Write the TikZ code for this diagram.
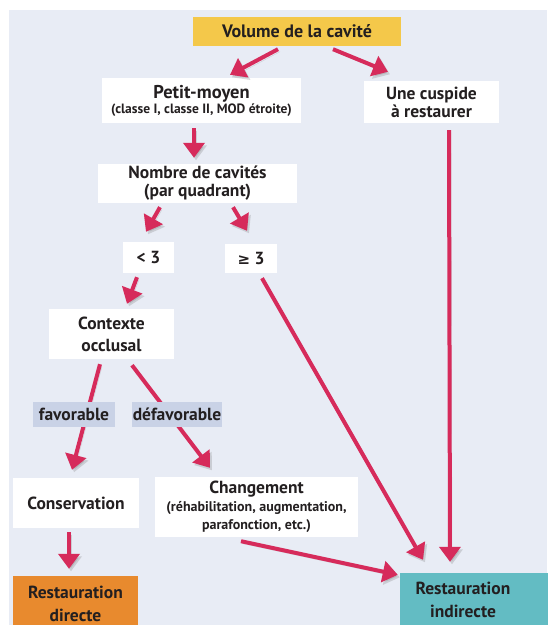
\documentclass[tikz,border=0pt]{standalone}
\usepackage{fontspec}
\setmainfont{PT Sans}
\newfontfamily\symfont{DejaVu Sans}
\usetikzlibrary{arrows.meta}
\definecolor{panelc}{HTML}{E8ECF5}
\definecolor{labelc}{HTML}{C9D2E6}
\definecolor{arrowc}{HTML}{D62B5B}
\definecolor{yellowc}{HTML}{F4C84A}
\definecolor{orangec}{HTML}{E88A2E}
\definecolor{tealc}{HTML}{63BCC3}
\definecolor{ink}{HTML}{231F20}
\newcommand{\smalltxt}{\fontsize{13.5}{13}\selectfont}
\newcommand{\midtxt}{\fontsize{14}{15}\selectfont}
\tikzset{
  box/.style={fill=white, inner sep=0pt, align=center, text=ink,
    font=\bfseries\fontsize{17.5}{18}\selectfont},
  lab/.style={fill=labelc, inner sep=0pt, align=center, text=ink,
    minimum height=25, font=\bfseries\fontsize{17.5}{18}\selectfont},
  arr/.style={draw=arrowc, line width=4pt,
    -{Triangle[length=15pt,width=21pt]},
    preaction={draw=black!55, opacity=0.25,
      transform canvas={shift={(2pt,-2.5pt)}}}},
}
\begin{document}
\begin{tikzpicture}[x=1pt,y=-1pt]
\useasboundingbox (0,0) rectangle (548,625);
\fill[white] (0,0) rectangle (548,625);
\fill[panelc] (9,10) rectangle (547,625);

% nodes
\node[box, fill=yellowc, minimum width=208, minimum height=29, font=\bfseries\fontsize{18}{18}\selectfont] (vol) at (297,31.5) {Volume de la cavité};
\node[box, minimum width=199, minimum height=45] (petit) at (201.5,100.5) {\fontsize{18.5}{18}\selectfont Petit-moyen\\[-3pt]\smalltxt (classe I, classe II, MOD étroite)};
\node[box, minimum width=135, minimum height=42] (cusp) at (431.5,102) {Une cuspide\\à restaurer};
\node[box, minimum width=199, minimum height=39] (nombre) at (197.5,183.5) {Nombre de cavités\\(par quadrant)};
\node[box, minimum width=51, minimum height=31] (lt3) at (148.5,257.5) {< 3};
\node[box, minimum width=52, minimum height=29] (ge3) at (251,258.5) {{\symfont\fontsize{15}{18}\selectfont ≥} 3};
\node[box, minimum width=125, minimum height=50, font=\bfseries\fontsize{17.5}{22}\selectfont] (ctx) at (111.5,334) {Contexte\\occlusal};
\node[box, minimum width=126, minimum height=50] (cons) at (76,503) {Conservation};
\node[box, minimum width=203, minimum height=60] (chg) at (256.5,507) {Changement\\\midtxt (réhabilitation, augmentation,\\\midtxt parafonction, etc.)};
\node[box, fill=orangec, minimum width=125, minimum height=56, font=\bfseries\fontsize{17.5}{23}\selectfont] (rdir) at (75.5,604) {Restauration\\directe};
\fill[tealc] (400,573) rectangle (548,625);
\node[box, fill=tealc, minimum width=126, minimum height=54, font=\bfseries\fontsize{17.5}{23}\selectfont] (rind) at (463,600) {Restauration\\indirecte};

% arrows
\draw[arr] ([xshift=-19pt,yshift=-3pt]vol.south) -- ([xshift=28.5pt,yshift=3pt]petit.north);
\draw[arr] ([xshift=36pt,yshift=-3pt]vol.south) -- ([xshift=-43.5pt,yshift=9pt]cusp.north);
\draw[arr] ([xshift=-7.5pt,yshift=-5pt]petit.south) -- ([xshift=-3.5pt,yshift=6pt]nombre.north);
\draw[arr] ([xshift=-37.5pt,yshift=-4pt]nombre.south) -- ([xshift=-2.5pt,yshift=10pt]lt3.north);
\draw[arr] ([xshift=35.5pt,yshift=-4pt]nombre.south) -- ([xshift=-4pt,yshift=13pt]ge3.north);
\draw[arr] ([xshift=-11.5pt,yshift=-4pt]lt3.south) -- ([xshift=15.5pt,yshift=5pt]ctx.north);
\draw[arr] ([xshift=11pt,yshift=-5pt]ge3.south) -- ([xshift=-40pt,yshift=13pt]rind.north);
\draw[arr] ([xshift=17.5pt,yshift=-7pt]cusp.south) -- ([xshift=-13pt,yshift=11pt]rind.north);
\draw[arr] ([xshift=-11.5pt,yshift=-5pt]ctx.south) -- ([xshift=-4pt,yshift=8pt]cons.north);
\draw[arr] ([xshift=20.5pt,yshift=-6pt]ctx.south) -- ([xshift=-46.5pt,yshift=9pt]chg.north);
\draw[arr] ([xshift=-7pt,yshift=-4pt]cons.south) -- ([xshift=-6.5pt,yshift=7pt]rdir.north);
\draw[arr] ([xshift=-15.5pt,yshift=-4pt]chg.south) -- ([xshift=-2pt,yshift=-2pt]rind.north west);

% labels
\node[lab, minimum width=82] (fav) at (74,414.5) {favorable};
\node[lab, minimum width=90] (defav) at (177,414.5) {défavorable};
\end{tikzpicture}
\end{document}
